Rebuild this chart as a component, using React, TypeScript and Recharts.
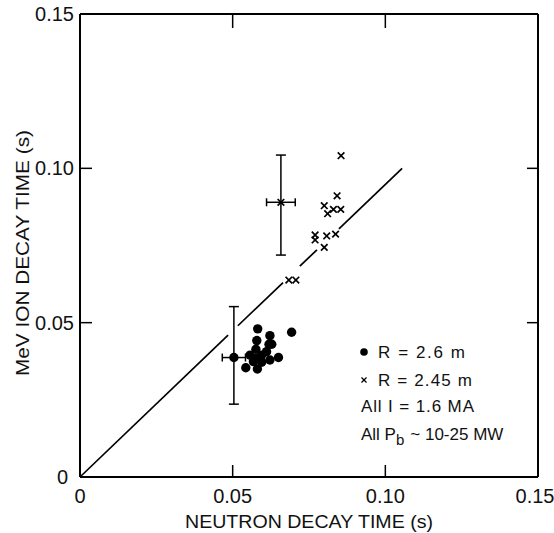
import React from 'react';
import { ScatterChart, Scatter, XAxis, YAxis, ErrorBar, ReferenceLine } from 'recharts';

// ---- data ----
const axisTicks = [0, 0.05, 0.1, 0.15];
const tickLabels = ['0', '0.05', '0.10', '0.15'];

// R = 2.6 m (filled dots)
const dotNeutron = [0.0582, 0.0693, 0.0622, 0.0579, 0.0619, 0.0628, 0.0576, 0.0611, 0.0557, 0.0595, 0.0579, 0.0650, 0.0622, 0.0568, 0.0595, 0.0543, 0.0581];
const dotIon = [0.0480, 0.0469, 0.0458, 0.0442, 0.0430, 0.0430, 0.0414, 0.0406, 0.0395, 0.0395, 0.0385, 0.0387, 0.0379, 0.0374, 0.0372, 0.0354, 0.0350];
const dotErrPoint = { x: 0.0504, y: 0.0387, ex: 0.0038, ey: [0.0151, 0.0165] };

// R = 2.45 m (crosses)
const crossNeutron = [0.0855, 0.0842, 0.0800, 0.0811, 0.0830, 0.0854, 0.0770, 0.0770, 0.0808, 0.0837, 0.0800, 0.0684, 0.0707];
const crossIon = [0.1041, 0.0911, 0.0879, 0.0853, 0.0867, 0.0867, 0.0784, 0.0768, 0.0781, 0.0787, 0.0744, 0.0638, 0.0638];
const crossErrPoint = { x: 0.0658, y: 0.0890, ex: 0.0047, ey: [0.0171, 0.0153] };

// diagonal reference line (drawn with gaps around the data)
const diagSegments = [
  [{ x: 0, y: 0 }, { x: 0.0485, y: 0.046 }],
  [{ x: 0.0517, y: 0.049 }, { x: 0.0665, y: 0.063 }],
  [{ x: 0.072, y: 0.0683 }, { x: 0.0776, y: 0.0736 }],
  [{ x: 0.0848, y: 0.0804 }, { x: 0.1055, y: 0.1 }],
];

const dotData = dotNeutron.map((x, i) => ({ x, y: dotIon[i] }));
const crossData = crossNeutron.map((x, i) => ({ x, y: crossIon[i] }));

const FONT = '"Liberation Sans", Arial, Helvetica, sans-serif';
const labelFor = (v: number) => tickLabels[axisTicks.findIndex((t) => Math.abs(t - v) < 1e-9)] ?? String(v);

const DotShape = (p: any) => <circle cx={p.cx} cy={p.cy} r={4.7} fill="#000" />;
const CrossShape = (p: any) => {
  const s = 3.3;
  return (
    <g stroke="#000" strokeWidth={1.7}>
      <line x1={p.cx - s} y1={p.cy - s} x2={p.cx + s} y2={p.cy + s} />
      <line x1={p.cx - s} y1={p.cy + s} x2={p.cx + s} y2={p.cy - s} />
    </g>
  );
};

const BottomTick = (p: any) => {
  const v = p.payload.value;
  const dx = v >= 0.149 ? -3 : 0;
  return (
    <text x={p.x + dx} y={p.y + 26} textAnchor="middle" fontSize={20} fontFamily={FONT} fill="#111">
      {labelFor(v)}
    </text>
  );
};
const LeftTick = (p: any) => {
  const v = p.payload.value;
  const right = v === 0 ? p.x - 12 : p.x - 6;
  return (
    <text x={right} y={p.y + 7} textAnchor="end" fontSize={20} fontFamily={FONT} fill="#111">
      {labelFor(v)}
    </text>
  );
};
const NoTick = () => <g />;

const axisLineStyle = { stroke: '#000', strokeWidth: 2 };
const tickLineStyle = { stroke: '#000', strokeWidth: 1.5 };

export default function App() {
  return (
    <div style={{ position: 'absolute', left: 0, top: 0, width: 554, height: 533, background: '#fff' }}>
      <ScatterChart width={554} height={533} margin={{ top: 13, right: 15, bottom: 0, left: 0 }}>
        <XAxis type="number" dataKey="x" xAxisId="b" domain={[0, 0.15]} ticks={axisTicks} interval={0} height={56}
          tickSize={-12} tickMargin={12} tickLine={tickLineStyle} axisLine={axisLineStyle} tick={BottomTick} allowDataOverflow />
        <XAxis type="number" dataKey="x" xAxisId="t" orientation="top" domain={[0, 0.15]} ticks={axisTicks} interval={0} height={1}
          tickSize={-14} tickMargin={0} tickLine={tickLineStyle} axisLine={axisLineStyle} tick={NoTick} allowDataOverflow />
        <YAxis type="number" dataKey="y" yAxisId="l" domain={[0, 0.15]} ticks={axisTicks} interval={0} width={80}
          tickSize={-12} tickMargin={12} tickLine={tickLineStyle} axisLine={axisLineStyle} tick={LeftTick} allowDataOverflow />
        <YAxis type="number" dataKey="y" yAxisId="r" orientation="right" domain={[0, 0.15]} ticks={axisTicks} interval={0} width={1}
          tickSize={-11} tickMargin={0} tickLine={tickLineStyle} axisLine={axisLineStyle} tick={NoTick} allowDataOverflow />
        {diagSegments.map((seg, i) => (
          <ReferenceLine key={i} xAxisId="b" yAxisId="l" segment={seg} stroke="#000" strokeWidth={1.7} ifOverflow="visible" />
        ))}
        <Scatter xAxisId="b" yAxisId="l" data={dotData} shape={DotShape} isAnimationActive={false} />
        <Scatter xAxisId="b" yAxisId="l" data={[dotErrPoint]} shape={DotShape} isAnimationActive={false}>
          <ErrorBar dataKey="ey" direction="y" width={5} stroke="#000" strokeWidth={1.5} isAnimationActive={false} />
          <ErrorBar dataKey="ex" direction="x" width={4} stroke="#000" strokeWidth={1.5} isAnimationActive={false} />
        </Scatter>
        <Scatter xAxisId="t" yAxisId="r" data={crossData} shape={CrossShape} isAnimationActive={false} />
        <Scatter xAxisId="t" yAxisId="r" data={[crossErrPoint]} shape={CrossShape} isAnimationActive={false}>
          <ErrorBar dataKey="ey" direction="y" width={5} stroke="#000" strokeWidth={1.5} isAnimationActive={false} />
          <ErrorBar dataKey="ex" direction="x" width={4} stroke="#000" strokeWidth={1.5} isAnimationActive={false} />
        </Scatter>
      </ScatterChart>
      <svg
        width={554}
        height={533}
        style={{ position: 'absolute', left: 0, top: 0, pointerEvents: 'none' }}
        fontFamily={FONT}
        fill="#111"
      >
        <text x={309} y={528} textAnchor="middle" fontSize={19} textLength={248} lengthAdjust="spacingAndGlyphs">
          NEUTRON DECAY TIME (s)
        </text>
        <text
          transform="translate(29,253) rotate(-90)"
          textAnchor="middle"
          fontSize={19}
          textLength={246}
          lengthAdjust="spacingAndGlyphs"
        >
          MeV ION DECAY TIME (s)
        </text>
        <circle cx={364} cy={352} r={3.8} fill="#000" />
        <text x={378} y={358} fontSize={17} textLength={87} lengthAdjust="spacing">R = 2.6 m</text>
        <g stroke="#000" strokeWidth={1.3}>
          <line x1={361.5} y1={377.5} x2={366.5} y2={382.5} />
          <line x1={361.5} y1={382.5} x2={366.5} y2={377.5} />
        </g>
        <text x={378} y={386} fontSize={17} textLength={94} lengthAdjust="spacing">R = 2.45 m</text>
        <text x={361} y={412} fontSize={17} textLength={113} lengthAdjust="spacing">All I = 1.6 MA</text>
        <text x={361} y={440} fontSize={17}>
          All P
          <tspan fontSize={15} dy={5}>b</tspan>
          <tspan dy={-5} dx={6}>~ 10-25 MW</tspan>
        </text>
      </svg>
    </div>
  );
}
